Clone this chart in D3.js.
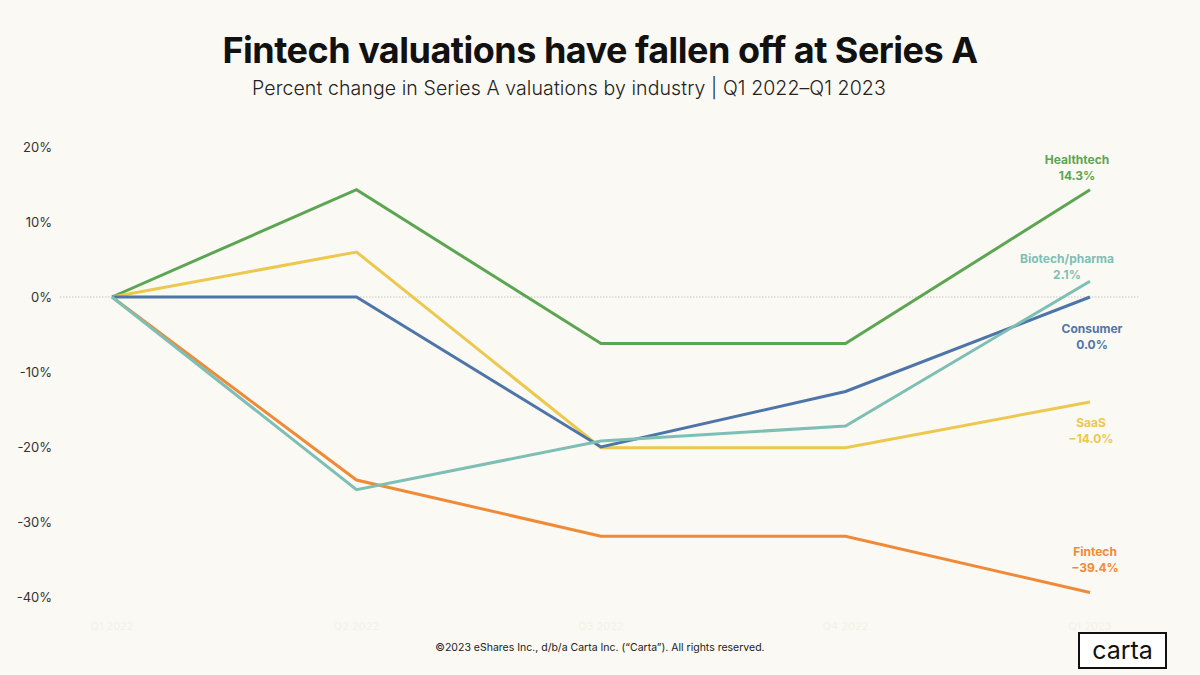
<!DOCTYPE html>
<html lang="en">
<head>
<meta charset="utf-8">
<title>Fintech valuations have fallen off at Series A</title>
<script src="https://cdn.jsdelivr.net/npm/d3@7"></script>
<style>
  body { margin: 0; background: #fbf9f3; }
  svg { display: block; }
</style>
</head>
<body>
<script type="text/javascript">

var w = 1200;
var h = 675;

// quarters on the x axis
var quarters = ["Q1 2022", "Q2 2022", "Q3 2022", "Q4 2022", "Q1 2023"];
var yTicks = [20, 10, 0, -10, -20, -30, -40];

// percent change per industry
var healthtech = [0, 14.3, -6.2, -6.2, 14.3];
var saas = [0, 6.0, -20.1, -20.1, -14.0];
var consumer = [0, 0, -20.0, -12.6, 0.0];
var biotech = [0, -25.7, -19.2, -17.2, 2.1];
var fintech = [0, -24.4, -31.9, -31.9, -39.4];

var seriesNames = ["Healthtech", "SaaS", "Consumer", "Biotech/pharma", "Fintech"];
var seriesValues = [healthtech, saas, consumer, biotech, fintech];
var seriesColors = ["#5ca553", "#ecc84e", "#4e75aa", "#7dbfb5", "#ef8b38"];
// end label nudges (px) relative to the last point
var labelDy = [-26, 25, 36, -18, -37];
var labelDx = [-13, 1, 2, -23, 5];

var margin = {top: 147, right: 110, bottom: 78, left: 112};

var svg = d3.select("body")
            .append("svg")
            .attr("width", w)
            .attr("height", h)
            .style("font-family", "Inter, 'Noto Sans', sans-serif");

svg.append("rect")
   .attr("width", w)
   .attr("height", h)
   .attr("fill", "#fbf9f3");

var x = d3.scalePoint()
          .domain(quarters)
          .range([margin.left, 1090]);

var y = d3.scaleLinear()
          .domain([-40, 20])
          .range([597, 147]);

// title + subtitle
svg.append("text")
   .attr("x", 600)
   .attr("y", 63)
   .attr("text-anchor", "middle")
   .attr("font-size", 36)
   .attr("font-weight", 700)
   .attr("letter-spacing", -0.5)
   .attr("fill", "#111")
   .text("Fintech valuations have fallen off at Series A");

svg.append("text")
   .attr("x", 252)
   .attr("y", 95)
   .attr("font-size", 19.5)
   .attr("font-weight", 300)
   .attr("letter-spacing", 0.1)
   .attr("fill", "#222")
   .text("Percent change in  Series A valuations by industry | Q1 2022\u2013Q1 2023");

// y axis labels
svg.append("g")
   .selectAll("text")
   .data(yTicks)
   .enter()
   .append("text")
   .attr("x", 52)
   .attr("y", function(d) { return y(d) + 5; })
   .attr("text-anchor", "end")
   .attr("font-size", 13)
   .attr("fill", "#333")
   .text(function(d) { return d + "%"; });

// zero line
svg.append("line")
   .attr("x1", 60)
   .attr("x2", 1140)
   .attr("y1", y(0))
   .attr("y2", y(0))
   .attr("stroke", "#bbb")
   .attr("stroke-width", 0.8)
   .attr("stroke-dasharray", "1.5,1.5");

// x axis labels (nearly invisible in the original)
svg.append("g")
   .selectAll("text")
   .data(quarters)
   .enter()
   .append("text")
   .attr("x", function(d) { return x(d); })
   .attr("y", 630)
   .attr("text-anchor", "middle")
   .attr("font-size", 11)
   .attr("fill", "#f4f1ea")
   .text(function(d) { return d; });

var line = d3.line()
             .x(function(d, i) { return x(quarters[i]); })
             .y(function(d) { return y(d); });

// draw order so overlaps look like the picture
var order = [0, 4, 1, 2, 3];
svg.append("g")
   .selectAll("path")
   .data(order)
   .enter()
   .append("path")
   .attr("d", function(k) { return line(seriesValues[k]); })
   .attr("fill", "none")
   .attr("stroke", function(k) { return seriesColors[k]; })
   .attr("stroke-width", 3)
   .attr("stroke-linejoin", "miter");

// end labels
var lastX = x(quarters[quarters.length - 1]);
var labels = svg.append("g")
                .selectAll("text")
                .data(seriesNames)
                .enter()
                .append("text")
                .attr("y", function(d, i) { return y(seriesValues[i][4]) + labelDy[i]; })
                .attr("text-anchor", "middle")
                .attr("font-size", 12)
                .attr("font-weight", 700)
                .attr("fill", function(d, i) { return seriesColors[i]; });

labels.append("tspan")
      .attr("x", function(d, i) { return lastX + labelDx[i]; })
      .text(function(d) { return d; });
labels.append("tspan")
      .attr("x", function(d, i) { return lastX + labelDx[i]; })
      .attr("dy", 16)
      .text(function(d, i) { return seriesValues[i][4].toFixed(1).replace("-", "\u2212") + "%"; });

// footer
svg.append("text")
   .attr("x", 600)
   .attr("y", 651)
   .attr("text-anchor", "middle")
   .attr("font-size", 10.5)
   .attr("fill", "#222")
   .text("\u00a92023 eShares Inc., d/b/a Carta Inc. (\u201cCarta\u201d). All rights reserved.");

// carta logo
svg.append("rect")
   .attr("x", 1079)
   .attr("y", 633)
   .attr("width", 87)
   .attr("height", 35)
   .attr("fill", "#fff")
   .attr("stroke", "#111")
   .attr("stroke-width", 2);

svg.append("text")
   .attr("x", 1122.5)
   .attr("y", 659)
   .attr("text-anchor", "middle")
   .attr("font-size", 25)
   .attr("font-weight", 400)
   .attr("fill", "#111")
   .text("carta");

</script>
</body>
</html>
